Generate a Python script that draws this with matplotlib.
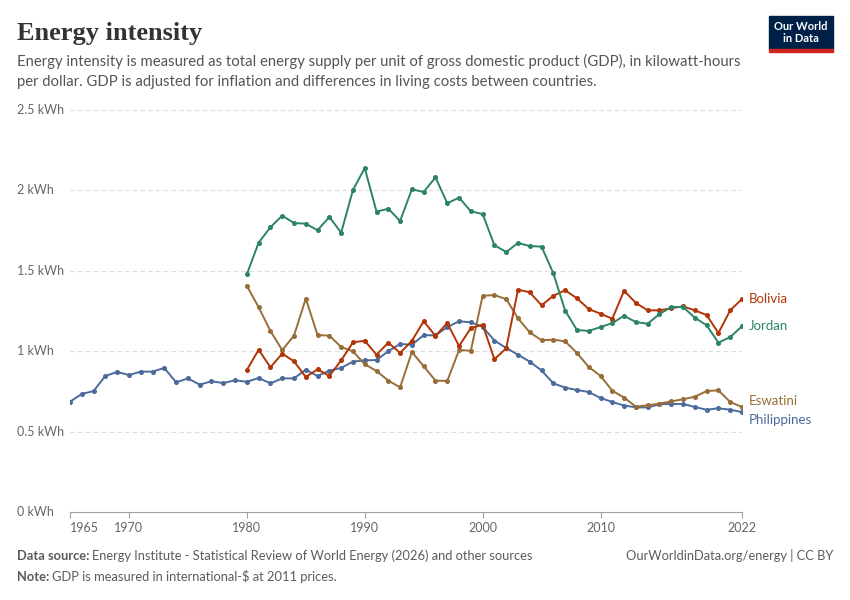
import matplotlib.pyplot as plt
from matplotlib.patches import Rectangle

# --- datos (kWh por dólar) ---
years_ph = list(range(1965, 2023))
philippines = [0.686, 0.734, 0.752, 0.846, 0.871, 0.852, 0.873, 0.873, 0.896, 0.806,
               0.831, 0.792, 0.813, 0.802, 0.819, 0.810, 0.833, 0.800, 0.831, 0.831,
               0.885, 0.846, 0.879, 0.896, 0.935, 0.943, 0.945, 1.000, 1.045, 1.040,
               1.100, 1.098, 1.150, 1.186, 1.180, 1.152, 1.066, 1.020, 0.978, 0.935,
               0.880, 0.800, 0.773, 0.759, 0.746, 0.709, 0.684, 0.662, 0.651, 0.650,
               0.670, 0.672, 0.672, 0.653, 0.636, 0.645, 0.636, 0.622]

years = list(range(1980, 2023))
bolivia = [0.883, 1.009, 0.900, 0.985, 0.937, 0.840, 0.887, 0.846, 0.943, 1.055,
           1.065, 0.978, 1.053, 0.989, 1.065, 1.186, 1.095, 1.175, 1.032, 1.144,
           1.165, 0.950, 1.018, 1.383, 1.366, 1.285, 1.345, 1.379, 1.329, 1.262,
           1.233, 1.202, 1.376, 1.300, 1.254, 1.254, 1.267, 1.279, 1.254, 1.225,
           1.113, 1.254, 1.325]
jordan = [1.478, 1.675, 1.771, 1.843, 1.797, 1.793, 1.752, 1.835, 1.737, 2.002,
          2.139, 1.868, 1.886, 1.810, 2.007, 1.990, 2.081, 1.920, 1.955, 1.870,
          1.853, 1.659, 1.617, 1.673, 1.654, 1.650, 1.484, 1.252, 1.132, 1.126,
          1.150, 1.175, 1.220, 1.181, 1.171, 1.231, 1.275, 1.275, 1.208, 1.161,
          1.053, 1.088, 1.155]
eswatini = [1.407, 1.273, 1.126, 1.007, 1.097, 1.327, 1.100, 1.097, 1.026, 0.999,
            0.919, 0.877, 0.817, 0.775, 0.995, 0.906, 0.817, 0.815, 1.007, 1.003,
            1.345, 1.349, 1.324, 1.204, 1.117, 1.068, 1.072, 1.061, 0.989, 0.902,
            0.846, 0.754, 0.712, 0.655, 0.664, 0.674, 0.688, 0.701, 0.717, 0.752,
            0.757, 0.684, 0.653]

y_ticks = [0, 0.5, 1, 1.5, 2, 2.5]
y_labels = ["0 kWh", "0.5 kWh", "1 kWh", "1.5 kWh", "2 kWh", "2.5 kWh"]
x_ticks = [1965, 1970, 1980, 1990, 2000, 2010, 2022]

plt.rcParams['font.family'] = ['Lato', 'DejaVu Sans']

fig = plt.figure(figsize=(8.5, 6), dpi=100)
ax = fig.add_axes([70/850, 1 - 512/600, 672/850, 402/600])
ax.set_xlim(1965, 2022)
ax.set_ylim(0, 2.5)

# --- series ---
series = [
    ("Philippines", years_ph, philippines, "#4c6a9c", -0.05),
    ("Eswatini", years, eswatini, "#996d39", 0.035),
    ("Bolivia", years, bolivia, "#b13507", 0.0),
    ("Jordan", years, jordan, "#2c8465", 0.0),
]
for name, x, y, color, dy in series:
    ax.plot(x, y, color=color, lw=1.4, marker='o', ms=2.6, zorder=3)
    ax.annotate(name, xy=(x[-1], y[-1] + dy), xytext=(5, 0),
                textcoords='offset points', va='center', ha='left',
                color=color, fontsize=9.5, annotation_clip=False)

# --- grilla y ejes ---
for v in y_ticks[1:]:
    ax.axhline(v, color='#dddddd', lw=0.8, ls=(0, (4, 3)), zorder=1)
for s in ['top', 'right', 'left']:
    ax.spines[s].set_visible(False)
ax.spines['bottom'].set_color('#a0a0a0')
ax.set_yticks([])
for v, lab in zip(y_ticks, y_labels):
    ax.text(17/850, ax.transData.transform((0, v))[1] / 600, lab,
            transform=fig.transFigure, ha='left', va='center',
            fontsize=9, color='#666666')
ax.set_xticks(x_ticks)
ax.set_xticklabels([str(t) for t in x_ticks])
ax.tick_params(axis='x', length=4, color='#a0a0a0', labelcolor='#666666',
               labelsize=9, pad=3)
ax.get_xticklabels()[0].set_ha('left')

# --- titulo ---
fig.text(17/850, 1 - 40/600, "Energy intensity", family='Liberation Serif',
         fontweight='bold', fontsize=19, color='#333333', va='baseline')
fig.text(17/850, 1 - 66/600,
         "Energy intensity is measured as total energy supply per unit of gross domestic product (GDP), in kilowatt-hours",
         fontsize=10.7, color='#555555', va='baseline')
fig.text(17/850, 1 - 86/600,
         "per dollar. GDP is adjusted for inflation and differences in living costs between countries.",
         fontsize=10.7, color='#555555', va='baseline')

# --- logo ---
fig.patches.append(Rectangle((769/850, 1 - 49/600), 64/850, 33/600,
                             transform=fig.transFigure, color='#002147'))
fig.patches.append(Rectangle((769/850, 1 - 52/600), 64/850, 3/600,
                             transform=fig.transFigure, color='#ce261e'))
fig.text(801/850, 1 - 32.5/600, "Our World\nin Data", ha='center', va='center',
         fontsize=8, fontweight='bold', color='white', linespacing=1.0)

# --- pie ---
fs = 9.3
renderer = fig.canvas.get_renderer()


def bold_then_plain(x, y, bold, plain):
    t = fig.text(x, y, bold, fontsize=fs, fontweight='bold', color='#5b5b5b',
                 va='baseline')
    bb = t.get_window_extent(renderer)
    fig.text((bb.x1 + 3) / 850, y, plain, fontsize=fs, color='#5b5b5b',
             va='baseline')


bold_then_plain(17/850, 1 - 560/600, "Data source:",
                "Energy Institute - Statistical Review of World Energy (2026) and other sources")
bold_then_plain(17/850, 1 - 581/600, "Note:",
                "GDP is measured in international-$ at 2011 prices.")
fig.text(833/850, 1 - 560/600, "OurWorldinData.org/energy | CC BY", ha='right',
         fontsize=fs, color='#5b5b5b', va='baseline')

fig.savefig("out.png", dpi=100)
